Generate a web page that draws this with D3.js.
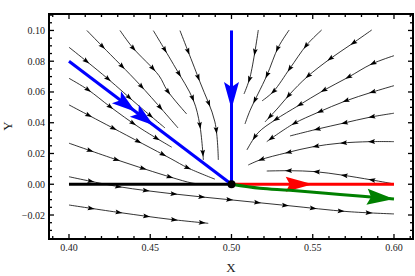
<!DOCTYPE html>
<html>
<head>
<meta charset="utf-8">
<script src="https://cdn.jsdelivr.net/npm/d3@7"></script>
<style>
  body { margin: 0; background: #fff; }
  svg { display: block; }
  text { font-family: "Liberation Serif", "DejaVu Serif", serif; fill: #222; }
</style>
</head>
<body>
<svg id="chart" width="415" height="276"></svg>
<script>
// tick values
const xTicks = [0.40, 0.45, 0.50, 0.55, 0.60];
const yTicks = [-0.02, 0.00, 0.02, 0.04, 0.06, 0.08, 0.10];

// streamlines, each one in flow direction [x, y]
const streams = [
  [[0.411, 0.100], [0.4205, 0.0897], [0.4437, 0.0646], [0.4671, 0.0366]],
  [[0.4314, 0.100], [0.439, 0.0891], [0.4554, 0.0706], [0.4605, 0.0609], [0.4724, 0.0457]],
  [[0.4519, 0.0999], [0.4652, 0.0763], [0.4765, 0.0548], [0.4805, 0.0386], [0.4827, 0.0158]],
  [[0.4683, 0.0999], [0.4806, 0.0665], [0.4898, 0.0405], [0.4919, 0.0158]],
  [[0.400, 0.0891], [0.4111, 0.0797], [0.424, 0.0685], [0.4437, 0.0503], [0.4591, 0.0366]],
  [[0.400, 0.0689], [0.4119, 0.0613], [0.4252, 0.0505], [0.4437, 0.0366], [0.4632, 0.0241]],
  [[0.400, 0.0516], [0.4129, 0.0444], [0.4273, 0.0364], [0.4622, 0.0169], [0.4732, 0.0106], [0.4898, 0.0033]],
  [[0.400, 0.0267], [0.4297, 0.0158], [0.4626, 0.0046], [0.4757, 0.0008], [0.481, 0.0002]],
  [[0.400, 0.0049], [0.4308, -0.0016], [0.4646, -0.0063], [0.5001, -0.0102], [0.5348, -0.0139], [0.5717, -0.0178], [0.600, -0.0193]],
  [[0.400, -0.0135], [0.4318, -0.0185], [0.4622, -0.0228], [0.4857, -0.0254]],
  [[0.5165, 0.1003], [0.5114, 0.0696], [0.5077, 0.0587]],
  [[0.5355, 0.1003], [0.5288, 0.0891], [0.5217, 0.0706], [0.5114, 0.0479], [0.5083, 0.0392]],
  [[0.5555, 0.1003], [0.5463, 0.0906], [0.536, 0.0754], [0.5257, 0.0602], [0.5188, 0.0542]],
  [[0.5863, 0.1003], [0.574, 0.0912], [0.5606, 0.0815], [0.5463, 0.0696], [0.536, 0.0587], [0.5286, 0.0496], [0.5206, 0.0405]],
  [[0.600, 0.0836], [0.5863, 0.0782], [0.5719, 0.0696], [0.5565, 0.0609], [0.5411, 0.0511], [0.5268, 0.0418], [0.5163, 0.0334], [0.5095, 0.0223]],
  [[0.600, 0.0641], [0.5863, 0.0598], [0.5698, 0.054], [0.5534, 0.0468], [0.538, 0.0392], [0.5217, 0.0277]],
  [[0.600, 0.0462], [0.5852, 0.0436], [0.5688, 0.0397], [0.5534, 0.036], [0.536, 0.0314]],
  [[0.600, 0.0277], [0.5852, 0.0277], [0.5668, 0.0267], [0.5503, 0.0244], [0.534, 0.0205], [0.5175, 0.0158], [0.5103, 0.0125]],
  [[0.600, 0.0002], [0.5863, 0.0028], [0.5678, 0.006], [0.5514, 0.0082], [0.536, 0.0088], [0.5217, 0.0086]]
];

// highlighted trajectories
const blueDiag = [[0.40, 0.08], [0.50, 0.00]];
const blueVert = [[0.50, 0.10], [0.50, 0.00]];
const blackLine = [[0.40, 0.00], [0.50, 0.00]];
const redLine = [[0.50, 0.00], [0.60, 0.00]];
const greenLine = [[0.50, 0.00], [0.5175, -0.0026], [0.536, -0.0039], [0.5668, -0.0066], [0.60, -0.0096]];
const fixedPoint = [0.50, 0.00];

const svg = d3.select('#chart');
const mLeft = 49, mRight = 413, mTop = 14, mBottom = 239;

const x = d3.scaleLinear().domain([0.3877, 0.6117]).range([mLeft, mRight]);
const y = d3.scaleLinear().domain([-0.0356, 0.1107]).range([mBottom, mTop]);

const line = d3.line().x(d => x(d[0])).y(d => y(d[1])).curve(d3.curveCatmullRom.alpha(0.5));

const plot = svg.append('g');

// arrowhead with tip at (tx, ty) pointing along angle a
function arrowHead(g, tx, ty, a, len, hw, notch, color) {
  const c = Math.cos(a), s = Math.sin(a);
  const pts = [
    [0, 0], [-len, hw], [-len + notch, 0], [-len, -hw]
  ].map(([u, v]) => [tx + u * c - v * s, ty + u * s + v * c]);
  g.append('path')
    .attr('d', 'M' + pts.map(p => p.join(',')).join('L') + 'Z')
    .attr('fill', color)
    .attr('stroke', 'none');
}

function arrowsAlong(g, pathNode, positions, len, hw, notch, color) {
  const total = pathNode.getTotalLength();
  positions(total).forEach(sPos => {
    const p = pathNode.getPointAtLength(sPos);
    const q = pathNode.getPointAtLength(Math.max(0, sPos - 2));
    const a = Math.atan2(p.y - q.y, p.x - q.x);
    arrowHead(g, p.x, p.y, a, len, hw, notch, color);
  });
}

// black streamlines
const streamG = plot.append('g');
streams.forEach(pts => {
  const p = streamG.append('path')
    .attr('d', line(pts))
    .attr('fill', 'none')
    .attr('stroke', '#000')
    .attr('stroke-width', 0.8);
  arrowsAlong(streamG, p.node(), total => {
    const out = [];
    for (let s = 26; s < total - 1; s += 28) out.push(s);
    return out;
  }, 7, 2.4, 1.2, '#000');
});

// thick trajectories
const thick = plot.append('g');
const drawThick = (pts, color) => thick.append('path')
  .attr('d', line(pts))
  .attr('fill', 'none')
  .attr('stroke', color)
  .attr('stroke-width', 3);

drawThick(blackLine, '#000');
const bd = drawThick(blueDiag, '#0000ff');
arrowsAlong(thick, bd.node(), t => [t * 0.41, t * 0.52], 24, 7.5, 5, '#0000ff');
const bv = drawThick(blueVert, '#0000ff');
arrowsAlong(thick, bv.node(), t => [t * 0.51], 27, 7.5, 5, '#0000ff');
const rl = drawThick(redLine, '#ff0000');
arrowsAlong(thick, rl.node(), t => [t * 0.5], 27, 7.5, 4, '#ff0000');
const gl = drawThick(greenLine, '#008000');
arrowsAlong(thick, gl.node(), t => [t], 27, 8, 4, '#008000');

plot.append('circle')
  .attr('cx', x(fixedPoint[0]))
  .attr('cy', y(fixedPoint[1]))
  .attr('r', 4)
  .attr('fill', '#000');

// frame and ticks
const axes = svg.append('g').attr('stroke', '#000');
const xMinor = d3.range(39, 62).map(v => v / 100);
const yMinor = d3.range(-7, 23).map(v => v * 0.005);
const isMajorX = v => xTicks.some(t => Math.abs(t - v) < 1e-9);
const isMajorY = v => yTicks.some(t => Math.abs(t - v) < 1e-9);

xMinor.forEach(v => {
  const px = x(v);
  const l = isMajorX(v) ? 5 : 3;
  axes.append('line').attr('x1', px).attr('x2', px).attr('y1', mBottom).attr('y2', mBottom - l).attr('stroke-width', 1.3);
  axes.append('line').attr('x1', px).attr('x2', px).attr('y1', mTop).attr('y2', mTop + l).attr('stroke-width', 1.3);
});
yMinor.forEach(v => {
  const py = y(v);
  if (py < mTop + 1 || py > mBottom - 1) return;
  const l = isMajorY(v) ? 5 : 3;
  axes.append('line').attr('x1', mLeft).attr('x2', mLeft + l).attr('y1', py).attr('y2', py).attr('stroke-width', 1.3);
  axes.append('line').attr('x1', mRight).attr('x2', mRight - l).attr('y1', py).attr('y2', py).attr('stroke-width', 1.3);
});

svg.append('rect')
  .attr('x', mLeft).attr('y', mTop)
  .attr('width', mRight - mLeft).attr('height', mBottom - mTop)
  .attr('fill', 'none')
  .attr('stroke', '#000')
  .attr('stroke-width', 2);

svg.append('g').selectAll('text')
  .data(xTicks)
  .join('text')
  .attr('x', d => x(d))
  .attr('y', 251)
  .attr('text-anchor', 'middle')
  .attr('font-size', 10)
  .text(d => d3.format('.2f')(d));

svg.append('g').selectAll('text')
  .data(yTicks)
  .join('text')
  .attr('x', 45)
  .attr('y', d => y(d) + 3.5)
  .attr('text-anchor', 'end')
  .attr('font-size', 10)
  .text(d => d < 0 ? '\u2212' + d3.format('.2f')(-d) : d3.format('.2f')(d));

svg.append('text')
  .attr('x', 231)
  .attr('y', 271.5)
  .attr('text-anchor', 'middle')
  .attr('font-size', 13)
  .text('X');

svg.append('text')
  .attr('transform', 'translate(12,126) rotate(-90)')
  .attr('text-anchor', 'middle')
  .attr('font-size', 13)
  .text('Y');
</script>
</body>
</html>
